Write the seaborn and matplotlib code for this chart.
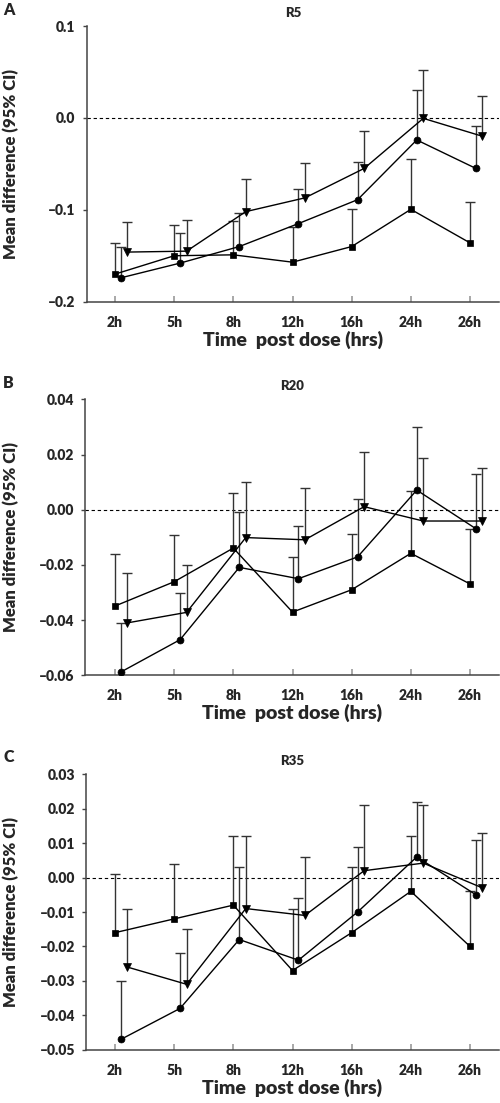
import numpy as np
import pandas as pd
import matplotlib
matplotlib.use("Agg")
import matplotlib.pyplot as plt
import seaborn as sns

sns.set_theme(style="white")
plt.rcParams['font.family'] = ['Lato', 'DejaVu Sans']
plt.rcParams['font.weight'] = 'bold'

hours = ['2h', '5h', '8h', '12h', '16h', '24h', '26h']

# Panel A (R5)
a_sq_mean = [-0.170, -0.150, -0.149, -0.157, -0.140, -0.0995, -0.136]
a_sq_upper = [-0.136, -0.117, -0.112, -0.119, -0.099, -0.045, -0.0915]
a_ci_mean = [-0.174, -0.158, -0.140, -0.115, -0.089, -0.024, -0.055]
a_ci_upper = [-0.140, -0.125, -0.104, -0.077, -0.048, 0.030, -0.009]
a_tr_mean = [-0.146, -0.145, -0.102, -0.087, -0.055, -0.0005, -0.020]
a_tr_upper = [-0.113, -0.111, -0.067, -0.049, -0.014, 0.052, 0.024]
a_yticks = [-0.2, -0.1, 0.0, 0.1]
a_yticklabels = ['–0.2', '–0.1', '0.0', '0.1']

# Panel B (R20)
b_sq_mean = [-0.0349, -0.0261, -0.0139, -0.0371, -0.0290, -0.0158, -0.0269]
b_sq_upper = [-0.0159, -0.0091, 0.0060, -0.0173, -0.0089, 0.0069, -0.0071]
b_ci_mean = [-0.0588, -0.0471, -0.0209, -0.0250, -0.0171, 0.0071, -0.0069]
b_ci_upper = [-0.0412, -0.0300, -0.0008, -0.0059, 0.0039, 0.0300, 0.0129]
b_tr_mean = [-0.0410, -0.0372, -0.0101, -0.0109, 0.0011, -0.0041, -0.0041]
b_tr_upper = [-0.0230, -0.0200, 0.0099, 0.0080, 0.0210, 0.0188, 0.0150]
b_yticks = [-0.06, -0.04, -0.02, 0.00, 0.02, 0.04]
b_yticklabels = ['–0.06', '–0.04', '–0.02', '0.00', '0.02', '0.04']

# Panel C (R35)
c_sq_mean = [-0.016, -0.012, -0.008, -0.027, -0.016, -0.004, -0.020]
c_sq_upper = [0.001, 0.004, 0.012, -0.0092, 0.003, 0.012, -0.004]
c_ci_mean = [-0.047, -0.038, -0.018, -0.024, -0.010, 0.006, -0.005]
c_ci_upper = [-0.030, -0.022, 0.003, -0.006, 0.009, 0.022, 0.011]
c_tr_mean = [-0.026, -0.031, -0.009, -0.011, 0.002, 0.0042, -0.003]
c_tr_upper = [-0.009, -0.015, 0.012, 0.006, 0.021, 0.021, 0.013]
c_yticks = [-0.05, -0.04, -0.03, -0.02, -0.01, 0.00, 0.01, 0.02, 0.03]
c_yticklabels = ['–0.05', '–0.04', '–0.03', '–0.02', '–0.01', '0.00', '0.01', '0.02', '0.03']

titles = ['R5', 'R20', 'R35']
letters = ['A', 'B', 'C']
series_names = ['square', 'circle', 'triangle']
offsets = {'square': 0.0, 'circle': 0.10, 'triangle': 0.21}
markers = {'square': 's', 'circle': 'o', 'triangle': 'v'}
msizes = {'square': 5.0, 'circle': 5.0, 'triangle': 6.0}

panels = [
    (a_sq_mean, a_sq_upper, a_ci_mean, a_ci_upper, a_tr_mean, a_tr_upper, a_yticks, a_yticklabels),
    (b_sq_mean, b_sq_upper, b_ci_mean, b_ci_upper, b_tr_mean, b_tr_upper, b_yticks, b_yticklabels),
    (c_sq_mean, c_sq_upper, c_ci_mean, c_ci_upper, c_tr_mean, c_tr_upper, c_yticks, c_yticklabels),
]

W, H = 500, 1103
fig = plt.figure(figsize=(W / 100, H / 100), dpi=100)

TW = 'heavy'

# pixel layout: (left, top, bottom) of each axes, right at 499
ax_px = [(86.7, 26.0, 301.7), (85.3, 399.3, 675.3), (86.0, 774.3, 1049.7)]
letter_base = [15, 388, 762]
ppu = 59.17  # pixels per category unit
x0_px = 115.0

for i, (sqm, squ, cim, ciu, trm, tru, yt, ytl) in enumerate(panels):
    left, top, bottom = ax_px[i]
    right = 499.0
    ax = fig.add_axes([left / W, 1 - bottom / H, (right - left) / W, (bottom - top) / H])

    rows = []
    means = {'square': sqm, 'circle': cim, 'triangle': trm}
    uppers = {'square': squ, 'circle': ciu, 'triangle': tru}
    for s in series_names:
        for k, h in enumerate(hours):
            rows.append({'series': s, 'x': k + offsets[s], 'mean': means[s][k], 'upper': uppers[s][k]})
    df = pd.DataFrame(rows)

    ax.axhline(0, color='black', lw=0.8, ls=(0, (3, 2.5)), zorder=1)

    for s in series_names:
        d = df[df['series'] == s]
        ax.vlines(d['x'], d['mean'], d['upper'], color='#333333', lw=1.0, zorder=2)
        ax.plot(d['x'], d['upper'], ls='none', marker='_', ms=6.5, mew=1.0, color='#333333', zorder=2)

    for s in series_names:
        d = df[df['series'] == s]
        sns.lineplot(data=d, x='x', y='mean', ax=ax, color='black', lw=1.0,
                     marker=markers[s], markersize=msizes[s], markeredgecolor='black',
                     markeredgewidth=0.5, legend=False, errorbar=None, sort=False, zorder=3)

    ax.set_xlim((left - x0_px) / ppu, (right - x0_px) / ppu)
    ax.set_ylim(yt[0], yt[-1])
    ax.set_xticks(range(len(hours)))
    ax.set_xticklabels(hours, fontsize=10, fontweight=TW)
    ax.set_yticks(yt)
    ax.set_yticklabels(ytl, fontsize=10, fontweight=TW)

    for sp in ['top', 'right']:
        ax.spines[sp].set_visible(False)
    for sp in ['left', 'bottom']:
        ax.spines[sp].set_color('#444444')
        ax.spines[sp].set_linewidth(1.1)

    ax.tick_params(axis='y', direction='out', length=3, width=1.0, color='#444444', pad=5, left=True)
    ax.tick_params(axis='x', direction='in', length=4, width=1.2, color='#999999', pad=10, bottom=True)

    ax.set_xlabel('Time  post dose (hrs)', fontsize=14, fontweight=TW, labelpad=1.5)
    ax.set_ylabel('Mean difference (95% CI)', fontsize=12, fontweight=TW)
    ax.yaxis.set_label_coords((19 - left) / (right - left), 0.5)
    ax.set_title(titles[i], fontsize=9.5, fontweight=TW, pad=6.5)

    fig.text(3 / W, 1 - letter_base[i] / H, letters[i], fontsize=11.5, fontweight=TW,
             ha='left', va='baseline')

fig.savefig('out.png', dpi=100)
